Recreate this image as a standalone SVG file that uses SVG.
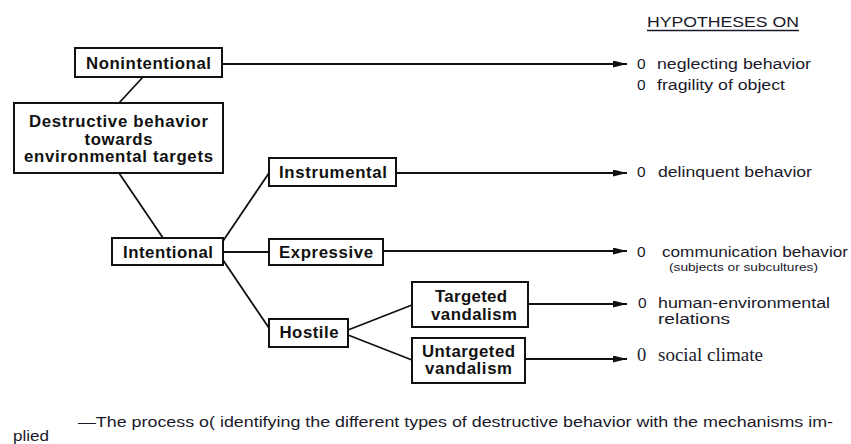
<svg xmlns="http://www.w3.org/2000/svg" width="851" height="444" viewBox="0 0 851 444">
<style>
.box{fill:#fff;stroke:#111;stroke-width:2}
.nt{font-family:"Liberation Sans",Arial,sans-serif;font-weight:bold;font-size:16.8px;fill:#111;text-anchor:middle}
.ln{stroke:#111;stroke-width:1.8;fill:none}
.ar{stroke:#111;stroke-width:1.8;fill:none;marker-end:url(#ah)}
.ht{font-family:"Liberation Sans",Arial,sans-serif;font-size:15.5px;fill:#1a1a2a}
.sm{font-family:"Liberation Sans",Arial,sans-serif;font-size:11.5px;fill:#1a1a2a}
.sf{font-family:"Liberation Serif","Times New Roman",serif;font-size:18.5px;fill:#1a1a2a}
.cap{font-family:"Liberation Sans",Arial,sans-serif;font-size:15.5px;fill:#1a1a2a}
</style>
<defs>
<marker id="ah" markerUnits="userSpaceOnUse" markerWidth="16" markerHeight="8" refX="14" refY="3.5" orient="auto">
<path d="M0,0 L14,3.5 L0,7 z" fill="#111"/>
</marker>
</defs>
<rect width="851" height="444" fill="#fff"/>
<g id="connectors">
<line class="ln" x1="143" y1="77" x2="119" y2="103"/>
<line class="ln" x1="119" y1="173" x2="163" y2="238"/>
<line class="ln" x1="223" y1="241" x2="269" y2="173"/>
<line class="ln" x1="223" y1="252" x2="269" y2="252"/>
<line class="ln" x1="223" y1="260" x2="269" y2="328"/>
<line class="ln" x1="348" y1="330" x2="412" y2="305"/>
<line class="ln" x1="348" y1="335" x2="412" y2="360"/>
<line class="ar" x1="222" y1="64" x2="627" y2="64"/>
<line class="ar" x1="396" y1="173" x2="627" y2="173"/>
<line class="ar" x1="383" y1="251" x2="627" y2="251"/>
<line class="ar" x1="528" y1="304" x2="627" y2="304"/>
<line class="ar" x1="525" y1="359" x2="627" y2="359"/>
</g>
<g id="nonintentional">
<rect class="box" x="75" y="48" width="147" height="29"/>
<text class="nt" x="148.5" y="69" textLength="125">Nonintentional</text>
</g>
<g id="destructive">
<rect class="box" x="14" y="103" width="209" height="70"/>
<text class="nt" x="118.5" y="127" textLength="179">Destructive behavior</text>
<text class="nt" x="118.5" y="144.5" textLength="68">towards</text>
<text class="nt" x="118.5" y="162" textLength="189">environmental targets</text>
</g>
<g id="intentional">
<rect class="box" x="112" y="238" width="111" height="27"/>
<text class="nt" x="168" y="257.5" textLength="90">Intentional</text>
</g>
<g id="instrumental">
<rect class="box" x="269" y="158" width="127" height="28"/>
<text class="nt" x="333" y="177.5" textLength="108">Instrumental</text>
</g>
<g id="expressive">
<rect class="box" x="269" y="239" width="114" height="26"/>
<text class="nt" x="326" y="257.5" textLength="94">Expressive</text>
</g>
<g id="hostile">
<rect class="box" x="269" y="319" width="79" height="28"/>
<text class="nt" x="309" y="337.5" textLength="59">Hostile</text>
</g>
<g id="targeted">
<rect class="box" x="412" y="282" width="116" height="45"/>
<text class="nt" x="471" y="302" textLength="72">Targeted</text>
<text class="nt" x="474" y="319.5" textLength="86">vandalism</text>
</g>
<g id="untargeted">
<rect class="box" x="412" y="338" width="113" height="45"/>
<text class="nt" x="468.5" y="356.5" textLength="93">Untargeted</text>
<text class="nt" x="468.5" y="374" textLength="87">vandalism</text>
</g>
<g id="hypotheses">
<text class="ht" x="647" y="27" font-size="17" textLength="152" lengthAdjust="spacingAndGlyphs">HYPOTHESES ON</text>
<line x1="647" y1="30.5" x2="799" y2="30.5" stroke="#1a1a2a" stroke-width="1.4"/>
<text class="ht" x="637" y="69">0</text>
<text class="ht" x="657" y="69" textLength="154" lengthAdjust="spacingAndGlyphs">neglecting behavior</text>
<text class="ht" x="637" y="89.5">0</text>
<text class="ht" x="657" y="89.5" textLength="128" lengthAdjust="spacingAndGlyphs">fragility of object</text>
<text class="ht" x="637" y="176.5">0</text>
<text class="ht" x="658" y="176.5" textLength="154" lengthAdjust="spacingAndGlyphs">delinquent behavior</text>
<text class="ht" x="637" y="257">0</text>
<text class="ht" x="662" y="257" textLength="186" lengthAdjust="spacingAndGlyphs">communication behavior</text>
<text class="sm" x="669" y="271" textLength="149" lengthAdjust="spacingAndGlyphs">(subjects or subcultures)</text>
<text class="ht" x="638" y="307.5">0</text>
<text class="ht" x="658" y="307.5" textLength="172" lengthAdjust="spacingAndGlyphs">human-environmental</text>
<text class="ht" x="658" y="324" textLength="72" lengthAdjust="spacingAndGlyphs">relations</text>
<text class="sf" x="637" y="361">0</text>
<text class="sf" x="658" y="361" textLength="105" lengthAdjust="spacingAndGlyphs">social climate</text>
</g>
<g id="caption">
<text class="cap" x="78" y="427" textLength="755" lengthAdjust="spacingAndGlyphs">—The process o( identifying the different types of destructive behavior with the mechanisms im-</text>
<text class="cap" x="13" y="441" textLength="36" lengthAdjust="spacingAndGlyphs">plied</text>
</g>
</svg>
